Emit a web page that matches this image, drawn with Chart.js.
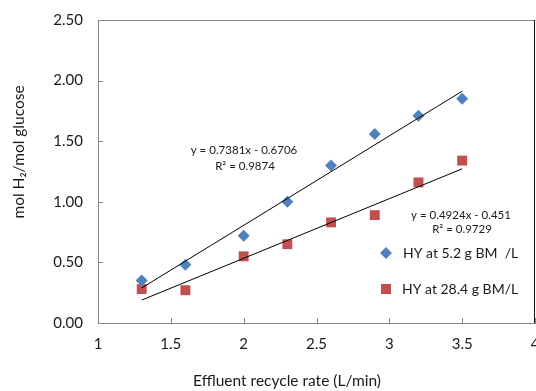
<!DOCTYPE html>
<html>
<head>
<meta charset="utf-8">
<script src="https://cdn.jsdelivr.net/npm/chart.js@4/dist/chart.umd.min.js"></script>
<style>
  html, body { margin: 0; padding: 0; background: #fff; }
  #wrap { width: 536px; height: 391px; position: relative; }
</style>
</head>
<body>
<div id="wrap"><canvas id="chart" width="536" height="391"></canvas></div>
<script>
// data
const recycleRate = [1.3, 1.6, 2.0, 2.3, 2.6, 2.9, 3.2, 3.5];
const hyLowBM = [0.35, 0.48, 0.72, 1.00, 1.30, 1.56, 1.71, 1.85];
const hyHighBM = [0.28, 0.27, 0.55, 0.65, 0.83, 0.89, 1.16, 1.34];
// trend line end points (x = 1.3 and x = 3.5)
const trendX = [1.3, 3.5];
const trendLow = [0.289, 1.913];
const trendHigh = [0.189, 1.272];
const xTicks = [1, 1.5, 2, 2.5, 3, 3.5, 4];
const yTicks = [0, 0.5, 1, 1.5, 2, 2.5];
const seriesNames = ['HY at 5.2 g BM  /L', 'HY at 28.4 g BM/L'];
const eqLow = ['y = 0.7381x - 0.6706', 'R² = 0.9874'];
const eqHigh = ['y = 0.4924x - 0.451', 'R² = 0.9729'];

const FONT = 'Lato, "Open Sans", sans-serif';
const BLUE = '#4F81BD';
const RED = '#C0504D';
const AXIS = '#868686';

function pts(xs, ys) {
    return xs.map((x, i) => ({ x: x, y: ys[i] }));
}

// extra drawing: box, inside ticks, x labels, titles, equations, legend
const extras = {
    id: 'extras',
    afterDraw(chart) {
        const ctx = chart.ctx;
        const a = chart.chartArea;
        const xs = chart.scales.x, ys = chart.scales.y;
        ctx.save();
        ctx.strokeStyle = AXIS;
        ctx.lineWidth = 1;
        ctx.beginPath();
        ctx.moveTo(a.left, a.top + 0.5);
        ctx.lineTo(a.right - 0.5, a.top + 0.5);
        ctx.stroke();
        ctx.strokeStyle = '#111';
        ctx.beginPath();
        ctx.moveTo(a.right - 0.5, a.top);
        ctx.lineTo(a.right - 0.5, a.bottom);
        ctx.stroke();
        // inside tick marks
        ctx.strokeStyle = AXIS;
        ctx.beginPath();
        xTicks.forEach(v => {
            const px = Math.round(xs.getPixelForValue(v)) + 0.5;
            ctx.moveTo(px, a.bottom);
            ctx.lineTo(px, a.bottom - 5);
        });
        yTicks.forEach(v => {
            const py = Math.round(ys.getPixelForValue(v)) + 0.5;
            ctx.moveTo(a.left, py);
            ctx.lineTo(a.left + 5, py);
        });
        ctx.stroke();

        ctx.fillStyle = '#1a1a1a';
        ctx.textAlign = 'center';
        ctx.textBaseline = 'middle';
        // x tick labels (last one runs off the edge like the original)
        ctx.font = '15px ' + FONT;
        xTicks.forEach(v => {
            ctx.fillText(String(v), xs.getPixelForValue(v), a.bottom + 21);
        });
        // axis titles
        ctx.font = '15.5px ' + FONT;
        ctx.fillText('Effluent recycle rate (L/min)', 287, 381);
        ctx.save();
        ctx.translate(19, 152);
        ctx.rotate(-Math.PI / 2);
        ctx.fillText('mol H\u2082/mol glucose', 0, 0);
        ctx.restore();

        // trend line equations
        ctx.font = '11.5px ' + FONT;
        ctx.fillText(eqLow[0], 244, 150);
        ctx.fillText(eqLow[1], 245, 166);
        ctx.fillText(eqHigh[0], 461, 215);
        ctx.fillText(eqHigh[1], 462, 229);

        // legend
        ctx.font = '14px ' + FONT;
        ctx.textAlign = 'left';
        ctx.fillStyle = BLUE;
        ctx.beginPath();
        ctx.moveTo(386, 247); ctx.lineTo(392, 253); ctx.lineTo(386, 259); ctx.lineTo(380, 253);
        ctx.closePath();
        ctx.fill();
        ctx.fillStyle = RED;
        ctx.fillRect(381, 284, 10, 10);
        ctx.fillStyle = '#1a1a1a';
        ctx.fillText(seriesNames[0], 403, 253);
        ctx.fillText(seriesNames[1], 402, 289);
        ctx.restore();
    }
};

new Chart(document.getElementById('chart'), {
    type: 'scatter',
    data: {
        datasets: [
            {
                label: seriesNames[0],
                data: pts(recycleRate, hyLowBM),
                pointStyle: 'rectRot',
                pointRadius: 6,
                backgroundColor: BLUE,
                borderColor: BLUE,
                borderWidth: 0,
                order: 1
            },
            {
                label: seriesNames[1],
                data: pts(recycleRate, hyHighBM),
                pointStyle: 'rect',
                pointRadius: 7,
                backgroundColor: RED,
                borderColor: RED,
                borderWidth: 0,
                order: 1
            },
            {
                type: 'line',
                label: 'trend 1',
                data: pts(trendX, trendLow),
                borderColor: '#000',
                borderWidth: 1,
                pointRadius: 0,
                order: 0
            },
            {
                type: 'line',
                label: 'trend 2',
                data: pts(trendX, trendHigh),
                borderColor: '#000',
                borderWidth: 1,
                pointRadius: 0,
                order: 0
            }
        ]
    },
    options: {
        responsive: false,
        animation: false,
        layout: { autoPadding: false, padding: { left: 0, top: 20, right: 1, bottom: 0 } },
        plugins: {
            legend: { display: false },
            tooltip: { enabled: false }
        },
        scales: {
            x: {
                type: 'linear',
                min: 1,
                max: 4,
                afterBuildTicks: s => { s.ticks = xTicks.map(v => ({ value: v })); },
                afterFit: s => { s.height = 68; },
                grid: { display: false, drawTicks: false },
                border: { color: AXIS, width: 1 },
                ticks: { display: false }
            },
            y: {
                min: 0,
                max: 2.5,
                afterBuildTicks: s => { s.ticks = yTicks.map(v => ({ value: v })); },
                afterFit: s => { s.width = 98; s.paddingTop = 0; s.paddingBottom = 0; },
                grid: { display: false, drawTicks: false },
                border: { color: AXIS, width: 1 },
                ticks: {
                    padding: 15,
                    color: '#1a1a1a',
                    font: { family: FONT, size: 15 },
                    callback: v => v.toFixed(2)
                }
            }
        }
    },
    plugins: [extras]
});
</script>
</body>
</html>
